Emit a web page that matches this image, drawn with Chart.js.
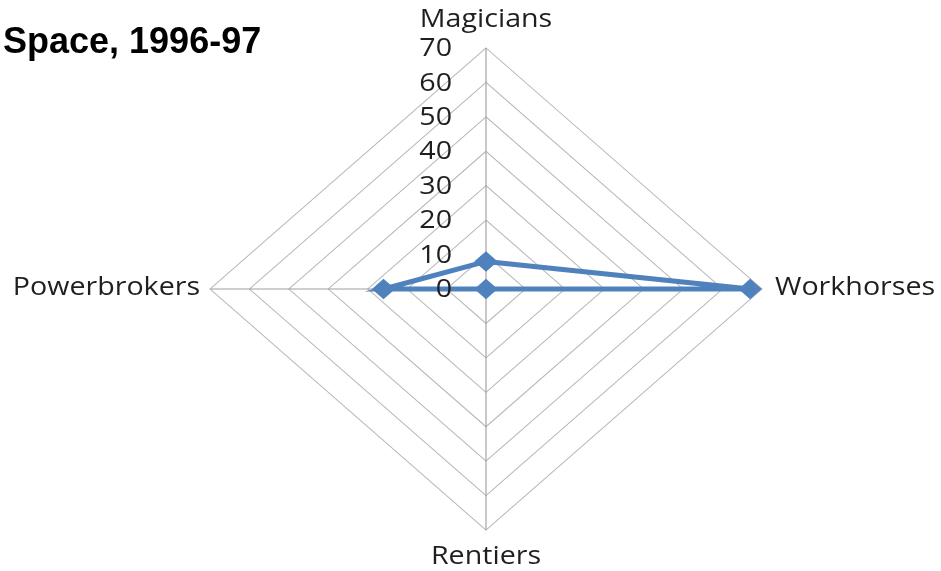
<!DOCTYPE html>
<html>
<head>
<meta charset="utf-8">
<script src="https://cdn.jsdelivr.net/npm/chart.js@4.4.1/dist/chart.umd.min.js"></script>
<style>
  html, body { margin: 0; padding: 0; background: #fff; overflow: hidden; }
</style>
</head>
<body>
<canvas id="myChart" width="941" height="571"></canvas>
<script>
var chartTitle = 'Space, 1996-97';
var groups = ['Magicians', 'Workhorses', 'Rentiers', 'Powerbrokers'];
var shares = [8, 67, 0, 26];
var tickLabels = ['0', '10', '20', '30', '40', '50', '60', '70'];

// the original picture is wider than it is tall, so the whole plot gets stretched sideways
var stretchX = 1.145;
var textFont = '25px "Open Sans"';
var textColor = '#1f1f1f';

var stretchPlugin = {
  id: 'stretchPlugin',
  beforeDraw: function(chart) {
    var ctx = chart.ctx;
    var r = chart.scales.r;
    ctx.save();
    ctx.fillStyle = '#fff';
    ctx.fillRect(0, 0, chart.width, chart.height);
    ctx.translate(r.xCenter, 0);
    ctx.scale(stretchX, 1);
    ctx.translate(-r.xCenter, 0);
  },
  afterDraw: function(chart) {
    var ctx = chart.ctx;
    var r = chart.scales.r;

    // tick labels, to the left of the vertical axis
    ctx.font = textFont;
    ctx.fillStyle = textColor;
    ctx.textAlign = 'right';
    ctx.textBaseline = 'middle';
    r.ticks.forEach(function(t, i) {
      var d = r.getDistanceFromCenterForValue(t.value);
      ctx.fillText(tickLabels[i] || t.label, r.xCenter - 34 / stretchX, r.yCenter - d + 1);
    });

    // point labels
    groups.forEach(function(g, i) {
      var p = r.getPointPositionForValue(i, r.max);
      if (i === 0) {
        ctx.textAlign = 'center';
        ctx.textBaseline = 'alphabetic';
        ctx.fillText(g, p.x, p.y - 21);
      } else if (i === 1) {
        ctx.textAlign = 'left';
        ctx.textBaseline = 'middle';
        ctx.fillText(g, p.x + 13 / stretchX, p.y - 1);
      } else if (i === 2) {
        ctx.textAlign = 'center';
        ctx.textBaseline = 'alphabetic';
        ctx.fillText(g, p.x, p.y + 34);
      } else {
        ctx.textAlign = 'right';
        ctx.textBaseline = 'middle';
        ctx.fillText(g, p.x - 10 / stretchX, p.y - 1);
      }
    });
    ctx.restore();

    // title
    ctx.save();
    ctx.font = 'bold 36px "Liberation Sans"';
    ctx.fillStyle = '#000';
    ctx.textAlign = 'left';
    ctx.textBaseline = 'alphabetic';
    ctx.fillText(chartTitle, 3, 53);
    ctx.restore();
  }
};

var ctx = document.getElementById('myChart');

var chart = new Chart(ctx, {
  type: 'radar',
  data: {
    labels: groups,
    datasets: [{
      label: chartTitle,
      data: shares,
      borderColor: '#4f81bd',
      backgroundColor: '#4f81bd',
      borderWidth: 5,
      fill: false,
      tension: 0,
      pointStyle: 'rectRot',
      pointRadius: 9.5,
      pointBorderWidth: 1,
      pointBackgroundColor: '#4f81bd',
      pointBorderColor: '#4f81bd'
    }]
  },
  options: {
    responsive: false,
    animation: false,
    layout: { padding: { left: 245, top: 48, right: 214, bottom: 41 } },
    plugins: {
      legend: { display: false },
      tooltip: { enabled: false },
      title: { display: false }
    },
    scales: {
      r: {
        min: 0,
        max: 70,
        ticks: { stepSize: 10, display: false },
        pointLabels: { display: false },
        grid: { color: '#b8b8b8', lineWidth: 1 },
        angleLines: { color: '#a0a0a0', lineWidth: 1 }
      }
    }
  },
  plugins: [stretchPlugin]
});
</script>
</body>
</html>
